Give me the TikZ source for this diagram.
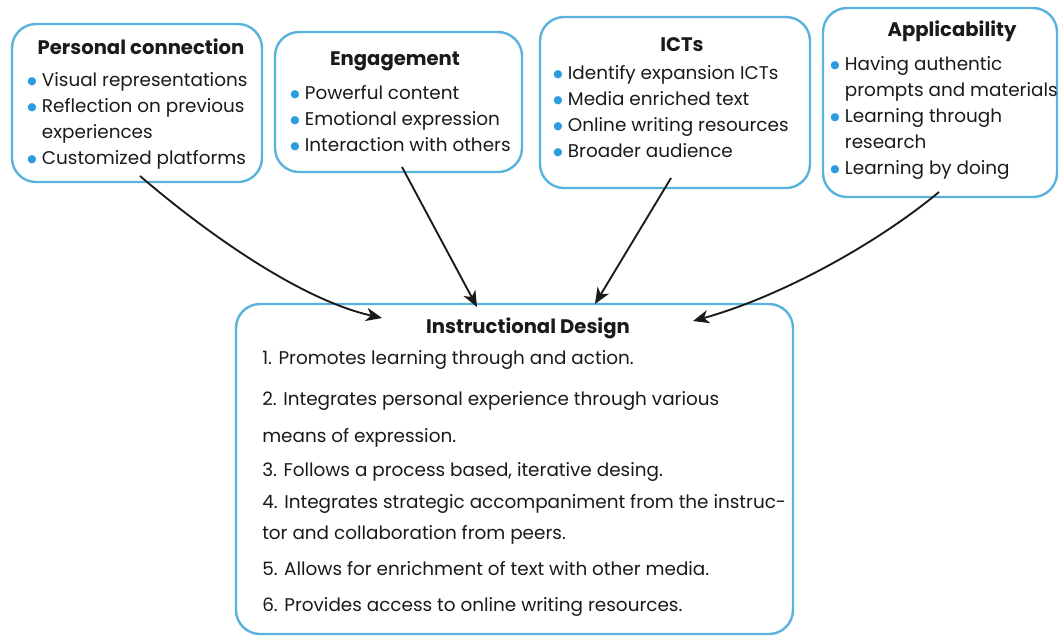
\documentclass[tikz,border=0pt]{standalone}
\usepackage{fontspec}
\setmainfont{Poppins}
\newfontfamily\dotfont{DejaVu Sans}
\usetikzlibrary{positioning,arrows.meta}
\definecolor{frame}{HTML}{5AB3DD}
\definecolor{dotblue}{HTML}{2A9DDE}
\definecolor{ink}{HTML}{1A1A1A}
\tikzset{
  card/.style={draw=frame, line width=1.8pt, rounded corners=18pt, fill=white},
  head/.style={font=\bfseries\fontsize{14.7}{16}\selectfont, text=ink, inner sep=0pt},
  list/.style={font=\fontsize{13.8}{19.5}\selectfont, text=ink, align=left, inner sep=0pt},
  steps/.style={font=\fontsize{13.8}{23}\selectfont, text=ink, align=left, inner sep=0pt},
  link/.style={-{Stealth[length=12pt,width=10pt,inset=3.5pt]}, line width=1.4pt, ink},
}
\newcommand\bul{\makebox[11pt][l]{\raisebox{1.2pt}{\textcolor{dotblue}{\dotfont\fontsize{8}{8}\selectfont ●}}}}
\newcommand\cont{\hspace*{11pt}}

\begin{document}
\begin{tikzpicture}[x=0.75pt, y=-0.75pt]
  \useasboundingbox (0,0) rectangle (1059,637);

  % the four source boxes
  \node[card, minimum width=250*0.75pt, minimum height=158*0.75pt] (pc) at (137,103) {};
  \node[card, minimum width=247*0.75pt, minimum height=140*0.75pt] (eng) at (398.5,102) {};
  \node[card, minimum width=270*0.75pt, minimum height=171*0.75pt] (ict) at (675,102.5) {};
  \node[card, minimum width=234*0.75pt, minimum height=189*0.75pt] (app) at (940,102.5) {};

  \node[head] (pc-head) at (141,47) {Personal connection};
  \node[list, anchor=north west] (pc-list) at (27,72) {\bul Visual representations\\
    \bul Reflection on previous\\ \cont experiences\\ \bul Customized platforms};

  \node[head] (eng-head) at (395,61) {Engagement};
  \node[list, anchor=north west] (eng-list) at (290,85) {\bul Powerful content\\
    \bul Emotional expression\\ \bul Interaction with others};

  \node[head] (ict-head) at (682,45) {ICTs};
  \node[list, anchor=north west] (ict-list) at (553,65) {\bul Identify expansion ICTs\\
    \bul Media enriched text\\ \bul Online writing resources\\ \bul Broader audience};

  \node[head] (app-head) at (952,31) {Applicability};
  \node[list, anchor=north west] (app-list) at (830,56) {\bul Having authentic\\
    \cont prompts and materials\\ \bul Learning through\\ \cont research\\
    \bul Learning by doing};

  % target box
  \node[card, minimum width=557*0.75pt, minimum height=330*0.75pt] (id) at (514.5,469) {};
  \node[head] (id-head) at (528,328) {Instructional Design};
  \node[steps, anchor=north west] (id-list) at (262,350) {%
    1. Promotes learning through and action.\\[7.75pt]
    2. Integrates personal experience through various\\[4.75pt]
    means of expression.\\[2.5pt]
    3. Follows a process based, iterative desing.\\[1pt]
    4. Integrates strategic accompaniment from the instruc-\\[0.25pt]
    tor and collaboration from peers.\\[4pt]
    5. Allows for enrichment of text with other media.\\[4pt]
    6. Provides access to online writing resources.};

  % arrow ends
  \coordinate (pc-foot) at (140,176);
  \coordinate (eng-foot) at (402,167);
  \coordinate (ict-foot) at (671,178);
  \coordinate (app-foot) at (939,192);
  \coordinate (id-a) at (382,318);
  \coordinate (id-b) at (477,307);
  \coordinate (id-c) at (595,304);
  \coordinate (id-d) at (693,321);

  \draw[link] (pc-foot) .. controls +(70,60) and +(-80,-18) .. (id-a);
  \draw[link] (eng-foot) -- (id-b);
  \draw[link] (ict-foot) -- (id-c);
  \draw[link] (app-foot) .. controls +(-60,50) and +(90,-25) .. (id-d);
\end{tikzpicture}
\end{document}
